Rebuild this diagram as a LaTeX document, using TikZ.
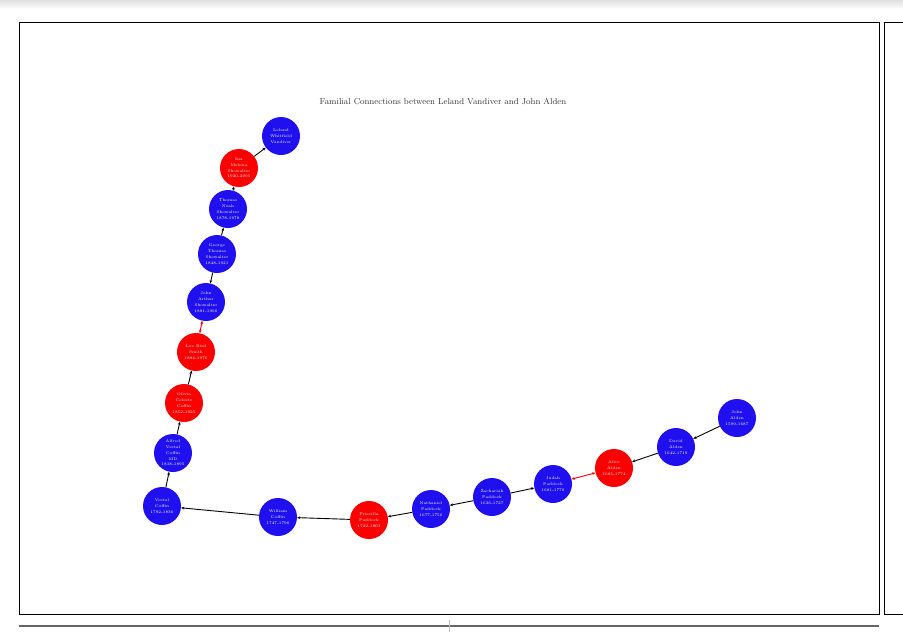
\documentclass[tikz,border=0pt]{standalone}
\usetikzlibrary{arrows.meta}
\definecolor{pblue}{RGB}{32,16,240}
\definecolor{pred}{RGB}{250,0,0}
\begin{document}
\begin{tikzpicture}[x=1pt,y=-1pt,
  person/.style={circle,minimum size=38pt,inner sep=0pt,fill=pblue,text=white,align=center,font=\fontsize{3.9}{5.8}\selectfont},
  fem/.style={person,fill=pred},
  link/.style={line width=0.9pt,-{Stealth[length=3.2pt,width=2.8pt]}},
  spouse/.style={line width=0.9pt,pred,{Stealth[length=3.2pt,width=2.8pt]}-{Stealth[length=3.2pt,width=2.8pt]}}]
\useasboundingbox (0,0) rectangle (903,638);
\fill[top color=black!12,bottom color=white] (0,0) rectangle (903,9);
\draw[line width=1pt] (19,22) rectangle (879,614);
\draw[line width=1pt] (884,22) -- (884,614) -- (910,614);
\draw[line width=1pt] (884,22) -- (910,22);
\draw[line width=1.4pt,black!60] (19,626) -- (879,626);
\draw[line width=0.4pt,black!25] (449,620) -- (449,632);
\node[font=\fontsize{8.6}{10}\selectfont,text=black!80] (title) at (443,102) {Familial Connections between Leland Vandiver and John Alden};
\node[person] (leland) at (281,136) {Leland\\Whitfield\\Vandiver};
\node[fem] (ina) at (239,168) {Ina\\Melona\\Showalter\\1920-2005};
\node[person] (thomas) at (228,209) {Thomas\\Noah\\Showalter\\1878-1978};
\node[person] (george) at (217,254) {George\\Thomas\\Showalter\\1848-1921};
\node[person] (johna) at (206,302) {John\\Arthur\\Showalter\\1881-1966};
\node[fem] (lue) at (196,352) {Lue Bird\\Smith\\1884-1976};
\node[fem] (olivia) at (184,403) {Olivia\\Celeste\\Coffin\\1852-1925};
\node[person] (alfred) at (173,453) {Alfred\\Vestal\\Coffin\\MD\\1818-1895};
\node[person] (vestal) at (162,506) {Vestal\\Coffin\\1792-1836};
\node[person] (william) at (278,517) {William\\Coffin\\1747-1790};
\node[fem] (priscilla) at (369,520) {Priscilla\\Paddock\\1722-1803};
\node[person] (nathaniel) at (431,509) {Nathaniel\\Paddock\\1677-1756};
\node[person] (zachariah) at (492,497) {Zachariah\\Paddock\\1636-1727};
\node[person] (judah) at (553,484) {Judah\\Paddock\\1681-1770};
\node[fem] (alice) at (614,468) {Alice\\Alden\\1685-1774};
\node[person] (david) at (676,447) {David\\Alden\\1642-1719};
\node[person] (johnalden) at (737,418) {John\\Alden\\1599-1687};
\draw[link] (ina) -- (leland);
\draw[link] (thomas) -- (ina);
\draw[link] (george) -- (thomas);
\draw[link] (george) -- (johna);
\draw[spouse] (lue) -- (johna);
\draw[link] (olivia) -- (lue);
\draw[link] (alfred) -- (olivia);
\draw[link] (vestal) -- (alfred);
\draw[link] (william) -- (vestal);
\draw[link] (priscilla) -- (william);
\draw[link] (nathaniel) -- (priscilla);
\draw[link] (zachariah) -- (nathaniel);
\draw[link] (zachariah) -- (judah);
\draw[spouse] (alice) -- (judah);
\draw[link] (david) -- (alice);
\draw[link] (johnalden) -- (david);
\end{tikzpicture}
\end{document}
